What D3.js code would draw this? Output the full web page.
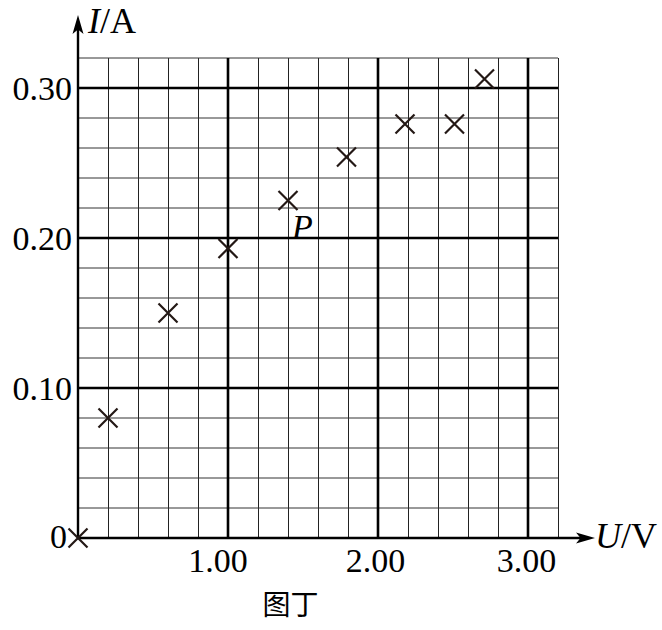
<!DOCTYPE html>
<html><head><meta charset="utf-8">
<script src="https://cdn.jsdelivr.net/npm/d3@7/dist/d3.min.js"></script>
<style>
html,body{margin:0;padding:0;background:#fff;}
svg{display:block;}
</style></head>
<body>
<svg id="chart" width="662" height="630"></svg>
<script>
// ---- data ----
const U = [0, 0.20, 0.60, 1.00, 1.40, 1.79, 2.18, 2.51, 2.71];
const I = [0, 0.080, 0.150, 0.193, 0.225, 0.254, 0.276, 0.276, 0.306];
const xMajorTicks = [1, 2, 3];
const xTickLabels = ["1.00", "2.00", "3.00"];
const yMajorTicks = [0.1, 0.2, 0.3];
const yTickLabels = ["0.10", "0.20", "0.30"];
const xMinorTicks = d3.range(1, 17).map(i => +(i * 0.2).toFixed(2));
const yMinorTicks = d3.range(1, 17).map(i => +(i * 0.02).toFixed(2));
const pointLabel = "P";
const pointLabelIndex = 4;
const caption = "图丁";

const svg = d3.select("#chart");
const serif = "'Liberation Serif','Times New Roman',serif";
const x = d3.scaleLinear().domain([0, 3.2]).range([78, 558]);
const y = d3.scaleLinear().domain([0, 0.32]).range([538, 58]);

// minor grid
const g = svg.append("g");
g.selectAll("line.vmin").data(xMinorTicks.filter(v => !xMajorTicks.includes(v)))
  .join("line").attr("class","vmin")
  .attr("x1", d => Math.round(x(d)) + 0.5).attr("x2", d => Math.round(x(d)) + 0.5)
  .attr("y1", y(0)).attr("y2", y(0.32))
  .attr("stroke", "#222").attr("stroke-width", 1);
g.selectAll("line.hmin").data(yMinorTicks.filter(v => !yMajorTicks.includes(v)))
  .join("line").attr("class","hmin")
  .attr("y1", d => Math.round(y(d))).attr("y2", d => Math.round(y(d)))
  .attr("x1", x(0)).attr("x2", x(3.2))
  .attr("stroke", "#333").attr("stroke-width", 1);
// major grid
g.selectAll("line.vmaj").data(xMajorTicks).join("line").attr("class","vmaj")
  .attr("x1", d => x(d)).attr("x2", d => x(d))
  .attr("y1", y(0)).attr("y2", y(0.32))
  .attr("stroke", "#000").attr("stroke-width", 2.6);
g.selectAll("line.hmaj").data(yMajorTicks).join("line").attr("class","hmaj")
  .attr("y1", d => y(d)).attr("y2", d => y(d))
  .attr("x1", x(0)).attr("x2", x(3.2))
  .attr("stroke", "#000").attr("stroke-width", 2.6);

// axes lines with arrows
svg.append("line").attr("x1", x(0)).attr("x2", x(0)).attr("y1", y(0)+1).attr("y2", 28)
  .attr("stroke","#000").attr("stroke-width",2.4);
svg.append("path").attr("d","M78,15 L72.5,34 L78,29.5 L83.5,34 Z").attr("fill","#000");
svg.append("line").attr("x1", x(0)-1).attr("x2", 585).attr("y1", y(0)).attr("y2", y(0))
  .attr("stroke","#000").attr("stroke-width",2.4);
svg.append("path").attr("d","M595,538 L576,532.5 L580.5,538 L576,543.5 Z").attr("fill","#000");

// tick labels via axes
const yAxis = d3.axisLeft(y).tickValues(yMajorTicks).tickSize(0).tickPadding(6)
  .tickFormat((d,i) => yTickLabels[i]);
const ya = svg.append("g").attr("transform", `translate(${x(0)},0)`).call(yAxis);
ya.select(".domain").remove();
ya.selectAll("text").attr("font-family", serif).attr("font-size", 34).attr("fill","#000").attr("dy","0.34em");

const xAxis = d3.axisBottom(x).tickValues(xMajorTicks).tickSize(0).tickPadding(10)
  .tickFormat((d,i) => xTickLabels[i]);
const xa = svg.append("g").attr("transform", `translate(0,${y(0)})`).call(xAxis);
xa.select(".domain").remove();
xa.selectAll("text").attr("font-family", serif).attr("font-size", 34).attr("fill","#000")
  .attr("dx", d => d === 1 ? -10.5 : (d === 2 ? -3 : -2));

// origin 0
svg.append("text").attr("x", 67).attr("y", 548).attr("text-anchor","end")
  .attr("font-family", serif).attr("font-size", 34).text("0");

// axis titles
const ty = svg.append("text").attr("x", 88).attr("y", 33).attr("font-family", serif).attr("font-size", 36);
ty.append("tspan").attr("font-style","italic").text("I");
ty.append("tspan").text("/A");
const tx = svg.append("text").attr("x", 595).attr("y", 548).attr("font-family", serif).attr("font-size", 36);
tx.append("tspan").attr("font-style","italic").text("U");
tx.append("tspan").text("/V");

// points as crosses
const s = 9.5;
svg.append("g").selectAll("path").data(U.map((u,i) => [u, I[i]])).join("path")
  .attr("d", d => {
    const cx = x(d[0]), cy = y(d[1]);
    return `M${cx-s},${cy-s}L${cx+s},${cy+s}M${cx-s},${cy+s}L${cx+s},${cy-s}`;
  })
  .attr("stroke", "#231815").attr("stroke-width", 2.2).attr("fill","none");

// P label
svg.append("text").attr("x", x(U[pointLabelIndex]) + 4).attr("y", y(I[pointLabelIndex]) + 37)
  .attr("font-family", serif).attr("font-style","italic").attr("font-size", 34).text(pointLabel);

// caption
svg.append("text").attr("x", 290.5).attr("y", 615).attr("text-anchor","middle")
  .attr("font-family", "'Noto Sans CJK SC', sans-serif").attr("font-size", 28).text(caption);
</script>
</body></html>
